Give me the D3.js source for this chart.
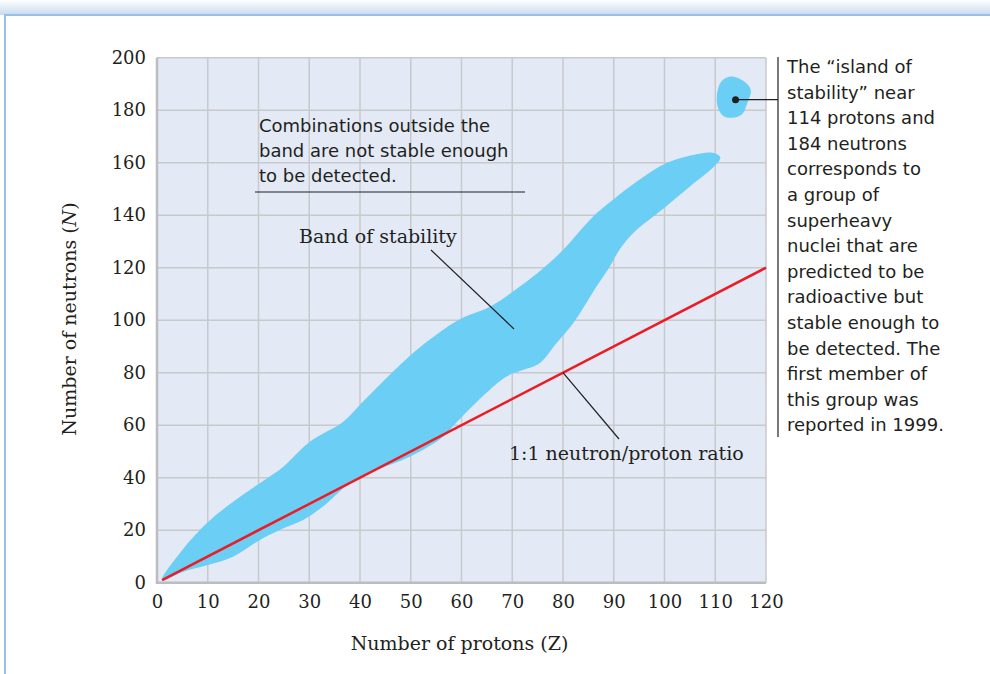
<!DOCTYPE html>
<html>
<head>
<meta charset="utf-8">
<script src="https://cdn.jsdelivr.net/npm/d3@7"></script>
<style>
  body { margin: 0; background: #fff; }
  svg { display: block; }
  .serif { font-family: "DejaVu Serif", serif; fill: #231f20; }
  .sans { font-family: "DejaVu Sans", sans-serif; fill: #231f20; }
</style>
</head>
<body>
<div id="chart"></div>
<script>
// proton ticks / neutron ticks
const xTicks = [0, 10, 20, 30, 40, 50, 60, 70, 80, 90, 100, 110, 120];
const yTicks = [0, 20, 40, 60, 80, 100, 120, 140, 160, 180, 200];

// band of stability outline, [Z, N], upper edge left->right then lower edge right->left
const bandUpper = [[1, 1], [5, 12.5], [10, 23], [14.4, 30], [20.3, 38], [24.9, 44.2], [30.1, 53.7],
  [36.7, 61.3], [40.6, 69], [47.2, 81.7], [52, 90], [59.6, 100.3], [65.6, 105.1],
  [71.5, 112.8], [76.1, 119.8], [80, 126.7], [85.9, 139.4], [89.8, 145.8], [95.1, 153.6],
  [100.3, 159.8], [104.2, 162.3], [109.5, 163.8], [111, 162]];
const bandLower = [[110, 159], [105, 150.9], [100.3, 143.3], [93.8, 133.1], [91.1, 126.7],
  [89.2, 120.4], [86.6, 112.8], [82, 98.8], [78.7, 91.2], [75.4, 83.6], [72.1, 81], [68.8, 78.5],
  [63.6, 70], [59, 61], [56.4, 55.6], [49.8, 48], [43.2, 42.9], [38, 37.9],
  [32.7, 29], [28.8, 23.9], [24.9, 20.7], [20.3, 16.3], [15, 9.9], [10, 6.7], [5.2, 4.2]];

// island of stability outline
const island = [[111.2, 190.9], [113.1, 192.8], [115.7, 190.9], [117, 187.7], [116.3, 182.6],
  [115.1, 178.2], [112.1, 177.3], [110.7, 180.1], [110.3, 185.1]];
const islandCenter = [114, 184];

// 1:1 neutron/proton line
const ratioLine = [[1, 1], [120, 120]];

const noteLines = [
  'The \u201cisland of', 'stability\u201d near', '114 protons and', '184 neutrons',
  'corresponds to', 'a group of', 'superheavy', 'nuclei that are', 'predicted to be',
  'radioactive but', 'stable enough to', 'be detected. The', 'first member of',
  'this group was', 'reported in 1999.'
];
const outsideLines = ['Combinations outside the', 'band are not stable enough', 'to be detected.'];

const width = 990;
const height = 674;
const plot = { left: 157, right: 766, top: 57.7, bottom: 582.7 };

const x = d3.scaleLinear().domain([0, 120]).range([plot.left, plot.right]);
const y = d3.scaleLinear().domain([0, 200]).range([plot.bottom, plot.top]);

const svg = d3.select('#chart').append('svg')
  .attr('width', width)
  .attr('height', height);

// page frame with soft shadow on top
const defs = svg.append('defs');
const grad = defs.append('linearGradient')
  .attr('id', 'shade').attr('x1', 0).attr('x2', 0).attr('y1', 0).attr('y2', 1);
grad.append('stop').attr('offset', '0%').attr('stop-color', '#ffffff');
grad.append('stop').attr('offset', '100%').attr('stop-color', '#c6daf0');
svg.append('rect')
  .attr('x', 0).attr('y', 0).attr('width', width).attr('height', 15)
  .attr('fill', 'url(#shade)');
svg.append('rect')
  .attr('x', 5).attr('y', 15).attr('width', width).attr('height', height)
  .attr('fill', '#fff')
  .attr('stroke', '#98bfe6')
  .attr('stroke-width', 2);

// plot background
svg.append('rect')
  .attr('x', plot.left).attr('y', plot.top)
  .attr('width', plot.right - plot.left).attr('height', plot.bottom - plot.top)
  .attr('fill', '#e3eaf6');

// grid
const grid = svg.append('g').attr('stroke', '#c8c9cc').attr('stroke-width', 1.5);
grid.selectAll('.vx').data(xTicks).enter().append('line')
  .attr('x1', d => x(d)).attr('x2', d => x(d))
  .attr('y1', plot.top).attr('y2', plot.bottom);
grid.selectAll('.hy').data(yTicks).enter().append('line')
  .attr('x1', plot.left).attr('x2', plot.right)
  .attr('y1', d => y(d)).attr('y2', d => y(d));

// axes frame
svg.append('path')
  .attr('d', `M${plot.left},${plot.top}V${plot.bottom}H${plot.right}`)
  .attr('fill', 'none').attr('stroke', '#bcbdc0').attr('stroke-width', 2.5);

// band + island
const line = d3.line().x(d => x(d[0])).y(d => y(d[1])).curve(d3.curveCatmullRomClosed.alpha(0.5));
svg.append('path')
  .attr('d', line(bandUpper.concat(bandLower)))
  .attr('fill', '#6bcef4');
svg.append('path')
  .attr('d', line(island))
  .attr('fill', '#6bcef4');

// 1:1 line
svg.append('path')
  .attr('d', d3.line().x(d => x(d[0])).y(d => y(d[1]))(ratioLine))
  .attr('stroke', '#ec1c24').attr('stroke-width', 2.5).attr('fill', 'none');

// tick labels
const xAxis = d3.axisBottom(x).tickValues(xTicks).tickSize(0).tickPadding(13);
const yAxis = d3.axisLeft(y).tickValues(yTicks).tickSize(0).tickPadding(11);
svg.append('g').attr('transform', `translate(0,${plot.bottom})`).call(xAxis)
  .call(g => g.select('.domain').remove());
svg.append('g').attr('transform', `translate(${plot.left},0)`).call(yAxis)
  .call(g => g.select('.domain').remove());
svg.selectAll('.tick text')
  .attr('class', 'serif')
  .attr('font-size', 18)
  .attr('font-family', 'DejaVu Serif')
  .attr('fill', '#231f20');

// axis titles
svg.append('text').attr('class', 'serif')
  .attr('x', (plot.left + plot.right) / 2 - 2).attr('y', 650)
  .attr('text-anchor', 'middle').attr('font-size', 19)
  .text('Number of protons (Z)');
const yt = svg.append('text').attr('class', 'serif')
  .attr('transform', 'translate(76,319) rotate(-90)')
  .attr('text-anchor', 'middle').attr('font-size', 19);
yt.append('tspan').text('Number of neutrons (');
yt.append('tspan').attr('font-style', 'italic').text('N');
yt.append('tspan').text(')');

// annotations
const leader = (a, b) => svg.append('line')
  .attr('x1', a[0]).attr('y1', a[1]).attr('x2', b[0]).attr('y2', b[1])
  .attr('stroke', '#231f20').attr('stroke-width', 1.2);

svg.append('text').attr('class', 'serif')
  .attr('x', 299).attr('y', 243).attr('font-size', 19)
  .text('Band of stability');
leader([431, 250], [514, 329]);

svg.append('text').attr('class', 'serif')
  .attr('x', 509).attr('y', 460).attr('font-size', 19)
  .text('1:1 neutron/proton ratio');
leader([x(80), y(80)], [619, 439]);

svg.append('g').selectAll('text').data(outsideLines).enter().append('text')
  .attr('class', 'sans')
  .attr('x', 259).attr('y', (d, i) => 132 + i * 25)
  .attr('font-size', 18)
  .text(d => d);
leader([255, 192], [525, 192]);

// island note
svg.append('circle')
  .attr('cx', x(islandCenter[0])).attr('cy', y(islandCenter[1]))
  .attr('r', 3.5).attr('fill', '#231f20');
leader([x(islandCenter[0]), y(islandCenter[1])], [778, y(islandCenter[1])]);
leader([778, 57], [778, 437]);
svg.append('g').selectAll('text').data(noteLines).enter().append('text')
  .attr('class', 'sans')
  .attr('x', 787).attr('y', (d, i) => 73 + i * 25.6)
  .attr('font-size', 18)
  .text(d => d);
</script>
</body>
</html>
